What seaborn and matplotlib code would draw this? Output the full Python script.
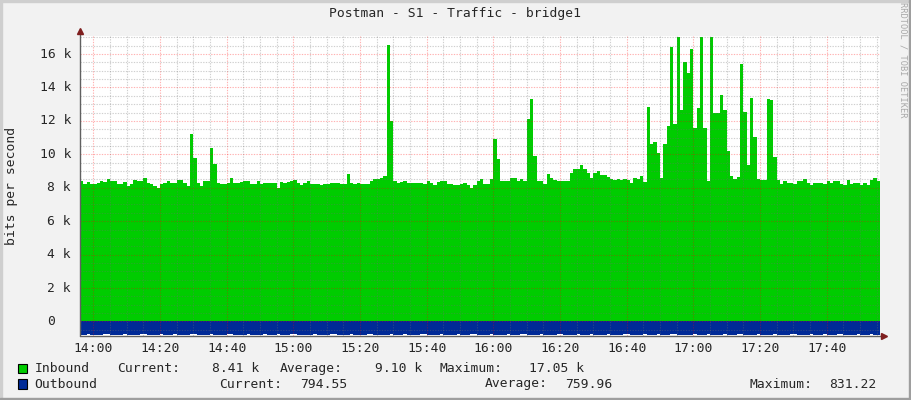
import numpy as np
import pandas as pd
import seaborn as sns
import matplotlib
matplotlib.use("Agg")
import matplotlib.pyplot as plt
from matplotlib.patches import Rectangle
from matplotlib.transforms import blended_transform_factory, ScaledTranslation

# ---------------- data (1-minute samples starting 13:56) ----------------
inbound_k = [
    8.39, 8.25, 8.33, 8.23, 8.23, 8.27, 8.40, 8.33, 8.50, 8.40, 8.40, 8.20, 8.20, 8.33, 8.10, 8.20, 8.45, 8.40, 8.40, 8.60,
    8.30, 8.25, 8.10, 8.00, 8.20, 8.30, 8.38, 8.30, 8.30, 8.45, 8.45, 8.30, 8.10, 11.20, 9.77, 8.30, 8.10, 8.40, 8.40, 10.40,
    9.40, 8.30, 8.25, 8.25, 8.30, 8.60, 8.30, 8.30, 8.35, 8.40, 8.40, 8.25, 8.25, 8.40, 8.25, 8.30, 8.30, 8.27, 8.27, 8.00,
    8.35, 8.30, 8.34, 8.40, 8.44, 8.30, 8.14, 8.30, 8.42, 8.25, 8.20, 8.20, 8.16, 8.20, 8.24, 8.26, 8.30, 8.30, 8.22, 8.24,
    8.80, 8.30, 8.20, 8.30, 8.24, 8.24, 8.24, 8.40, 8.50, 8.55, 8.60, 8.70, 16.54, 12.00, 8.40, 8.30, 8.35, 8.40, 8.30, 8.30,
    8.30, 8.30, 8.30, 8.24, 8.40, 8.30, 8.18, 8.35, 8.38, 8.38, 8.20, 8.24, 8.18, 8.18, 8.24, 8.30, 8.18, 7.98, 8.14, 8.38,
    8.50, 8.25, 8.20, 8.55, 10.90, 9.70, 8.40, 8.40, 8.40, 8.60, 8.60, 8.40, 8.55, 8.40, 12.10, 13.34, 9.90, 8.40, 8.40, 8.20,
    8.80, 8.60, 8.46, 8.40, 8.40, 8.40, 8.40, 8.90, 9.10, 9.10, 9.34, 9.10, 8.90, 8.60, 8.86, 9.00, 8.74, 8.74, 8.66, 8.54,
    8.46, 8.54, 8.44, 8.54, 8.46, 8.30, 8.60, 8.50, 8.70, 8.34, 12.86, 10.60, 10.76, 10.06, 8.56, 10.60, 11.70, 16.40, 11.80, 17.05,
    12.64, 15.50, 14.86, 16.30, 11.60, 12.80, 17.05, 11.60, 8.40, 17.00, 12.50, 12.46, 13.54, 12.64, 10.20, 8.70, 8.54, 8.64, 15.40, 12.56,
    9.34, 13.36, 11.04, 8.50, 8.44, 8.44, 13.30, 13.24, 9.84, 8.44, 8.24, 8.40, 8.30, 8.30, 8.20, 8.38, 8.38, 8.50, 8.30, 8.14,
    8.30, 8.28, 8.26, 8.22, 8.38, 8.26, 8.38, 8.38, 8.20, 8.14, 8.44, 8.20, 8.26, 8.26, 8.14, 8.26, 8.14, 8.44, 8.60, 8.41,
]
outbound = [
    821, 812, 768, 815, 826, 818, 809, 771, 764, 822, 817, 825, 813, 769, 811, 828, 806, 819, 766, 772,
    815, 823, 810, 827, 770, 818, 807, 824, 763, 816, 812, 831, 820, 767, 773, 809, 825, 814, 819, 765,
    811, 822, 817, 826, 769, 774, 813, 820, 808, 827, 766, 815, 821, 810, 824, 771, 818, 812, 825, 768,
    816, 822, 809, 764, 770, 819, 826, 813, 807, 823, 767, 815, 820, 828, 811, 772, 766, 817, 824, 810,
    821, 765, 814, 827, 818, 806, 769, 773, 822, 815, 811, 826, 819, 768, 813, 824, 808, 771, 820, 816,
    825, 812, 767, 774, 818, 823, 809, 816, 770, 821, 827, 814, 810, 765, 819, 822, 813, 768, 772, 826,
    817, 811, 824, 769, 815, 820, 808, 827, 766, 813, 818, 822, 771, 774, 816, 825, 810, 819, 767, 823,
    812, 828, 815, 770, 764, 821, 817, 809, 824, 768, 814, 826, 811, 773, 819, 822, 807, 816, 769, 825,
    813, 820, 827, 766, 772, 818, 811, 823, 815, 770, 824, 809, 817, 767, 821, 826, 812, 771, 765, 819,
    822, 814, 828, 808, 769, 816, 825, 811, 773, 820, 813, 827, 818, 766, 810, 823, 815, 770, 774, 821,
    817, 812, 826, 768, 819, 822, 809, 815, 771, 824, 811, 828, 816, 765, 770, 820, 813, 825, 818, 767,
    823, 810, 816, 772, 827, 819, 812, 769, 766, 821, 814, 826, 808, 773, 818, 822, 815, 770, 811, 795,
]
time_labels = ["14:00", "14:20", "14:40", "15:00", "15:20", "15:40", "16:00",
               "16:20", "16:40", "17:00", "17:20", "17:40"]
time_label_minutes = [4, 24, 44, 64, 84, 104, 124, 144, 164, 184, 204, 224]
y_major = [0, 2000, 4000, 6000, 8000, 10000, 12000, 14000, 16000]
y_major_labels = ["0", "2 k", "4 k", "6 k", "8 k", "10 k", "12 k", "14 k", "16 k"]
title = "Postman - S1 - Traffic - bridge1"
legend_rows = [
    ("Inbound", "#00CC00", [("Current:", 116.7), ("8.41 k", 212.3), ("Average:", 279.3),
                            ("9.10 k", 375.0), ("Maximum:", 440.0), ("17.05 k", 529.3)]),
    ("Outbound", "#002A97", [("Current:", 219.3), ("794.55", 300.0), ("Average:", 485.0),
                             ("759.96", 565.0), ("Maximum:", 750.0), ("831.22", 829.3)]),
]

# ---------------- figure ----------------
sns.set_style("white")
MONO = ["DejaVu Sans Mono"]
plt.rcParams["font.family"] = MONO
FS = 9.4
BG = "#F2F2F2"

W, H = 911, 400
fig = plt.figure(figsize=(W / 100, H / 100), dpi=100, facecolor=BG)
ax = fig.add_axes([80 / W, (H - 335.5) / H, 800 / W, 299.5 / H])
ax.set_facecolor("white")

df = pd.DataFrame({"minute": np.arange(len(inbound_k)),
                   "inbound": np.array(inbound_k) * 1000.0,
                   "outbound": np.array(outbound, dtype=float)})
xe = np.append(df["minute"].values, len(df))
inb = np.append(df["inbound"].values, df["inbound"].values[-1])
outb = np.append(df["outbound"].values, df["outbound"].values[-1])

ax.fill_between(xe, 0, inb, step="post", color="#00CC00", lw=0, zorder=1)
ax.fill_between(xe, 0, -outb, step="post", color="#002A97", lw=0, zorder=1)

ax.set_xlim(0, 240)
ax.set_ylim(-838, 17080)

# grid
ax.set_xticks(time_label_minutes)
ax.set_xticks([m for m in range(-1, 241, 5) if 0 < m < 240], minor=True)
ax.set_yticks(y_major)
ax.set_yticks([v for v in range(-500, 17001, 500)], minor=True)
ax.set_axisbelow(False)
ax.grid(which="minor", color="#707070", alpha=0.33, lw=0.8, linestyle=(0, (1.2, 1.2)))
ax.grid(which="major", color="#FF0000", alpha=0.30, lw=0.8, linestyle=(0, (1.2, 1.2)))

ax.set_xticklabels(time_labels, fontsize=FS, family=MONO)
ax.set_yticklabels([])
ax.tick_params(axis="x", which="major", length=2, pad=3, color="#CC6666")
ax.tick_params(axis="x", which="minor", length=0)
ax.tick_params(axis="y", which="major", length=3, direction="inout", color="#DD8888")
ax.tick_params(axis="y", which="minor", length=3, direction="inout", color="#AAAAAA")
for s in ax.spines.values():
    s.set_visible(False)

# y tick labels (monospace aligned like rrdtool)
bt = blended_transform_factory(ax.transAxes, ax.transData)
for v, lab in zip(y_major, y_major_labels):
    off = 0 if lab != "0" else -16 / 100
    tr = bt + ScaledTranslation(-9 / 100 + off, 0, fig.dpi_scale_trans)
    ax.text(0, v, lab, transform=tr, ha="right", va="center", fontsize=FS, family=MONO)

# axis lines with arrows
ax.plot([0, 0], [0, 1.013], transform=ax.transAxes, color="#606060", lw=1.0, clip_on=False, zorder=5)
ax.plot([0, 1.004], [0, 0], transform=ax.transAxes, color="#606060", lw=1.0, clip_on=False, zorder=5)
ax.plot([0], [1.016], marker="^", ms=4.5, color="#7F1F1F", transform=ax.transAxes, clip_on=False, zorder=6)
ax.plot([1.005], [0], marker=">", ms=4.5, color="#7F1F1F", transform=ax.transAxes, clip_on=False, zorder=6)

# texts
fig.text(455 / W, 1 - 14 / H, title, ha="center", va="center", fontsize=FS, family=MONO)
fig.text(12 / W, 1 - 186 / H, "bits per second", rotation=90, ha="center", va="center",
         fontsize=FS, family=MONO)
fig.text(903 / W, 1 - 60 / H, "RRDTOOL / TOBI OETIKER", rotation=270, ha="center", va="center",
         fontsize=6.2, color="#A8A8A8", family=MONO)

# legend
row_y = [368.5, 384.0]
for (name, col, items), yy in zip(legend_rows, row_y):
    fig.patches.append(Rectangle((17.5 / W, 1 - (yy + 4.7) / H), 9.5 / W, 9.5 / H,
                                 facecolor=col, edgecolor="black", lw=0.8,
                                 transform=fig.transFigure, figure=fig))
    fig.text(34.3 / W, 1 - yy / H, name, ha="left", va="center", fontsize=FS, family=MONO)
    for txt, xx in items:
        fig.text(xx / W, 1 - yy / H, txt, ha="left", va="center", fontsize=FS, family=MONO)

# 3D-ish border like rrdtool
fig.patches.append(Rectangle((0, 1 - 2 / H), 1, 2 / H, color="#CFCFCF", transform=fig.transFigure, figure=fig))
fig.patches.append(Rectangle((0, 0), 2 / W, 1, color="#CFCFCF", transform=fig.transFigure, figure=fig))
fig.patches.append(Rectangle((0, 0), 1, 2 / H, color="#9E9E9E", transform=fig.transFigure, figure=fig))
fig.patches.append(Rectangle((1 - 2 / W, 0), 2 / W, 1, color="#9E9E9E", transform=fig.transFigure, figure=fig))

fig.savefig("out.png", dpi=100, facecolor=BG)
